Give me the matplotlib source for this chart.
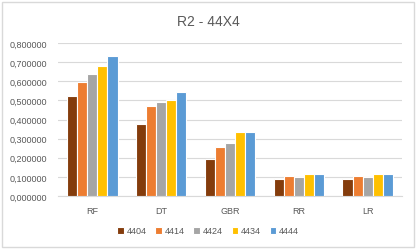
import numpy as np
import matplotlib.pyplot as plt
from matplotlib.patches import Rectangle

models = ['RF', 'DT', 'GBR', 'RR', 'LR']
series = ['4404', '4414', '4424', '4434', '4444']
colors = ['#843C0C', '#ED7D31', '#A5A5A5', '#FFC000', '#5B9BD5']

r2_4404 = [0.522, 0.376, 0.191, 0.091, 0.091]
r2_4414 = [0.598, 0.469, 0.254, 0.103, 0.103]
r2_4424 = [0.640, 0.493, 0.275, 0.101, 0.101]
r2_4434 = [0.681, 0.504, 0.334, 0.114, 0.114]
r2_4444 = [0.732, 0.543, 0.334, 0.114, 0.114]
values = [r2_4404, r2_4414, r2_4424, r2_4434, r2_4444]

yticks = [0.0, 0.1, 0.2, 0.3, 0.4, 0.5, 0.6, 0.7, 0.8]

plt.rcParams['font.family'] = ['Liberation Sans', 'DejaVu Sans']
txt = '#595959'

fig = plt.figure(figsize=(4.16, 2.51), dpi=100)
fig.patches.append(Rectangle((0.006, 0.01), 0.988, 0.98, transform=fig.transFigure,
                             fill=False, edgecolor='#D9D9D9', linewidth=1))
ax = fig.add_axes([58/416, 1-197/251, 344/416, 153/251])

x = np.arange(len(models))
w = 0.146
for i, (s, v) in enumerate(zip(series, values)):
    ax.bar(x + (i-2)*w, v, w, color=colors[i], edgecolor='white', linewidth=0.8, label=s, zorder=3)

ax.set_xlim(-0.5, 4.5)
ax.set_ylim(0, 0.8)
ax.set_yticks(yticks)
ax.set_yticklabels([('%.6f' % t).replace('.', ',') for t in yticks], fontsize=6.5, color=txt)
ax.set_xticks(x)
ax.set_xticklabels(models, fontsize=6.5, color=txt)
ax.tick_params(axis='y', length=0, pad=8)
ax.tick_params(axis='x', length=0, pad=7)
ax.grid(axis='y', color='#D9D9D9', linewidth=0.8, zorder=0)
for sp in ['top', 'right', 'left']:
    ax.spines[sp].set_visible(False)
ax.spines['bottom'].set_color('#D9D9D9')

fig.text(0.5, 1-22/251, 'R2 - 44X4', ha='center', va='center', fontsize=10, color=txt)
fig.legend(loc='center', bbox_to_anchor=(208/416, 1-232/251), ncol=5, frameon=False,
           fontsize=6.5, labelcolor=txt, handlelength=0.7, handleheight=0.7,
           handletextpad=0.3, columnspacing=1.0)

fig.savefig('out.png', dpi=100)
